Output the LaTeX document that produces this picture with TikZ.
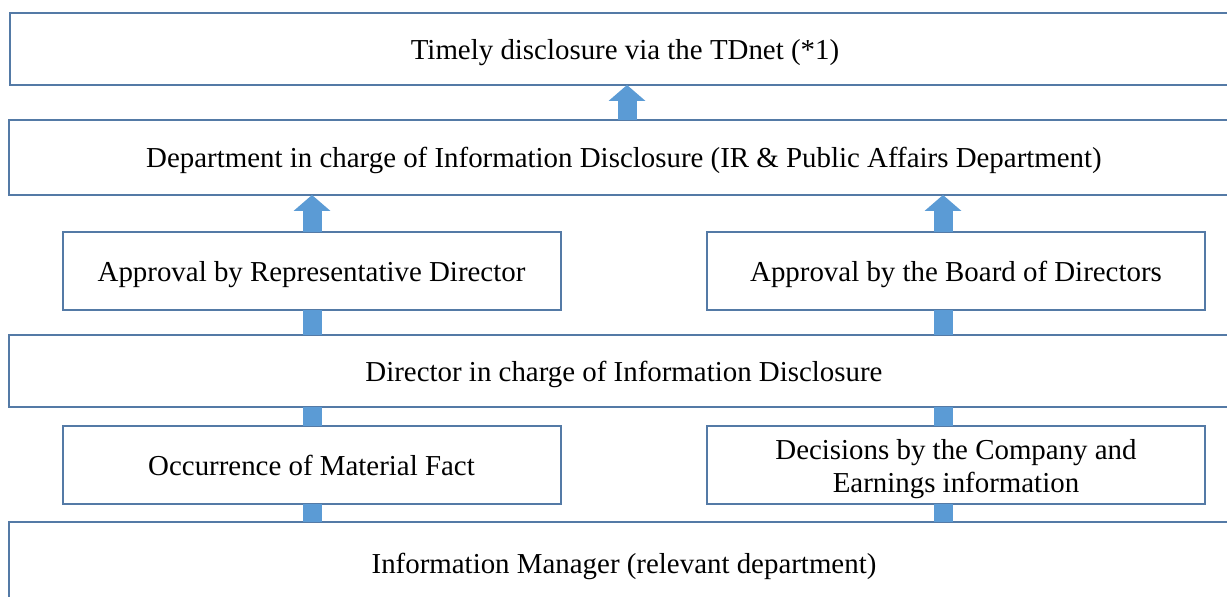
\documentclass[tikz,border=0pt]{standalone}
\usepackage{fontspec}
\setmainfont{Liberation Serif}
\usetikzlibrary{arrows.meta}
\definecolor{boxline}{RGB}{84,122,166}
\definecolor{arrowblue}{RGB}{91,155,213}
\begin{document}
\begin{tikzpicture}[x=0.5pt,y=-0.5pt,
  box/.style={draw=boxline,line width=1pt,inner sep=0pt,outer sep=0pt,align=center,
    text depth=0pt,font=\fontsize{14.45pt}{16.5pt}\selectfont},
  wide/.style={box,minimum width=615pt,minimum height=#1},
  half/.style={box,minimum width=249pt,minimum height=39pt},
  shaft/.style={draw=arrowblue,line width=9.5pt},
  uparrow/.style={shaft,-{Triangle[width=18.5pt,length=8pt,line width=0pt]}}]
\useasboundingbox (0,0) rectangle (1227,597);
\clip (0,0) rectangle (1227,597);

\node[wide=36pt] (tdnet) at (625,49) {Timely disclosure via the TDnet (*1)};
\node[wide=37.5pt] (dept) at (624,157.5) {Department in charge of Information Disclosure (IR \& Public Affairs Department)};
\node[half] (approvL) at (311.5,271) {Approval by Representative Director};
\node[half] (approvR) at (956,271) {Approval by the Board of Directors};
\node[wide=36pt] (director) at (624,371) {Director in charge of Information Disclosure};
\node[half] (occur) at (311.5,465.5) {Occurrence of Material Fact};
\node[half] (decide) at (956,465.5) {Decisions by the Company and\\Earnings information};
\node[wide=41pt] (info) at (624,563) {Information Manager (relevant department)};

\coordinate (colM) at (627,0);
\coordinate (colL) at (312,0);
\coordinate (colR) at (943,0);

\path[uparrow] (dept.north -| colM) -- (tdnet.south -| colM);
\path[uparrow] (approvL.north -| colL) -- (dept.south -| colL);
\path[uparrow] (approvR.north -| colR) -- (dept.south -| colR);
\path[shaft] (director.north -| colL) -- (approvL.south -| colL);
\path[shaft] (director.north -| colR) -- (approvR.south -| colR);
\path[shaft] (occur.north -| colL) -- (director.south -| colL);
\path[shaft] (decide.north -| colR) -- (director.south -| colR);
\path[shaft] (info.north -| colL) -- (occur.south -| colL);
\path[shaft] (info.north -| colR) -- (decide.south -| colR);

\end{tikzpicture}
\end{document}
